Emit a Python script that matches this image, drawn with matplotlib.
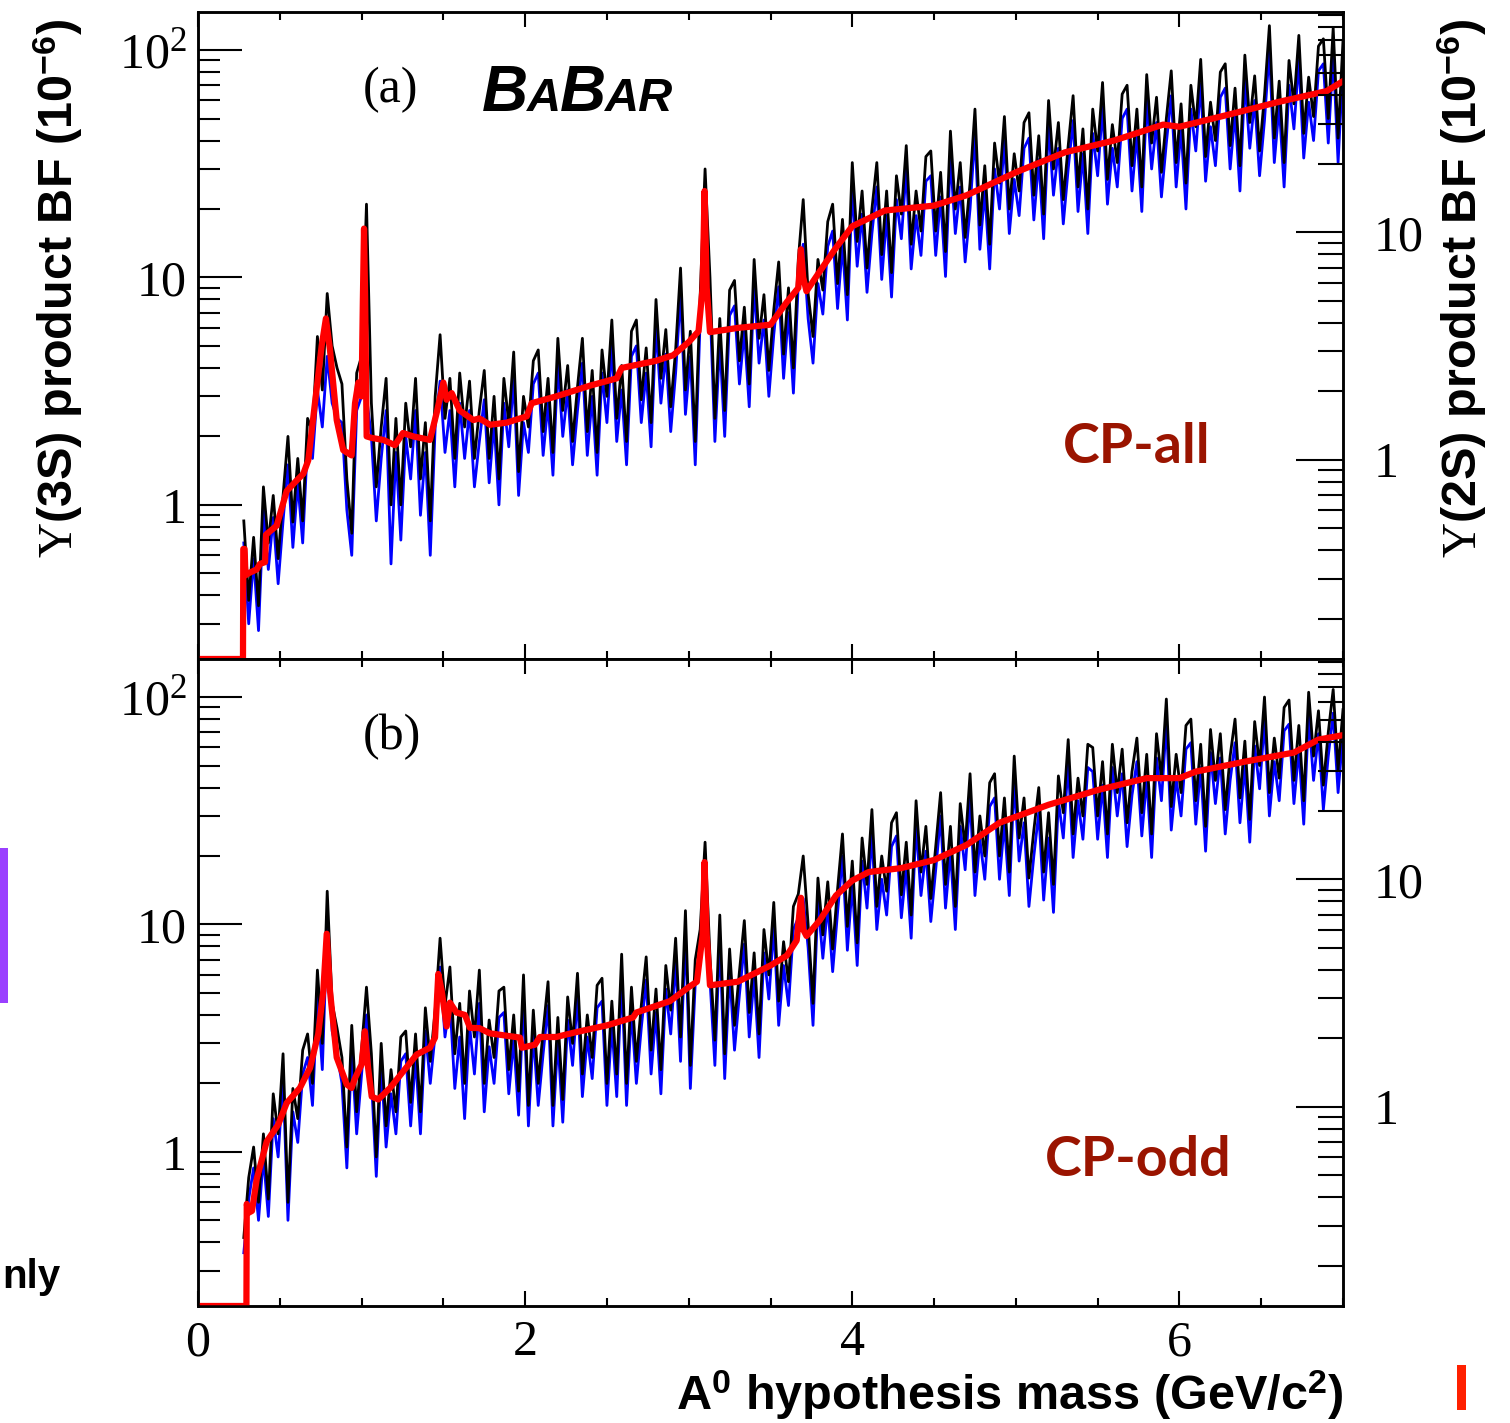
import numpy as np
import matplotlib
matplotlib.use("Agg")
import matplotlib.pyplot as plt
from matplotlib.ticker import FixedLocator, MultipleLocator, NullFormatter, LogLocator, FixedFormatter
from matplotlib.patches import Rectangle

plt.rcParams['mathtext.fontset'] = 'custom'
plt.rcParams['mathtext.rm'] = 'Liberation Serif'
plt.rcParams['mathtext.it'] = 'Liberation Serif:italic'
plt.rcParams['mathtext.bf'] = 'Liberation Sans:bold'
plt.rcParams['mathtext.sf'] = 'Liberation Sans'

# ---------------- data ----------------
# mass-hypothesis scan grid (GeV/c^2)
MASS_START = 0.28
MASS_STEP = 0.03

# panel (a) CP-all : upper limits (black) and Y(2S)-scaled limits (blue)
black_a = [
    0.85, 0.38, 0.72, 0.36, 1.2, 0.68, 1.1, 0.58, 1.1, 2.0,
    0.84, 1.6, 0.85, 2.4, 2.1, 5.5, 3.2, 8.5, 5.0, 4.0,
    3.4, 1.3, 0.75, 3.8, 4.5, 21, 2.8, 1.2, 2.2, 3.6,
    1.0, 2.4, 1.0, 2.8, 1.8, 3.6, 1.3, 2.3, 0.85, 3.0,
    5.6, 2.4, 3.6, 1.6, 3.8, 2.2, 3.5, 1.6, 2.6, 3.9,
    1.6, 3.0, 1.3, 3.6, 2.3, 4.7, 1.4, 3.0, 2.2, 4.3,
    4.8, 2.1, 3.6, 1.7, 5.4, 2.6, 4.1, 1.9, 3.3, 5.4,
    2.1, 3.9, 1.7, 4.8, 3.0, 6.5, 2.4, 4.1, 1.9, 5.8,
    6.5, 2.9, 4.9, 2.3, 8.0, 3.6, 5.9, 2.7, 4.8, 11,
    3.2, 5.8, 1.9, 8.3, 30, 10, 2.4, 6.6, 2.6, 8.8,
    9.7, 4.3, 7.4, 3.4, 12, 5.4, 8.4, 3.9, 7.2, 11.7,
    4.6, 9.0, 4.0, 12, 22, 8.5, 5.5, 12, 8.8, 17.6,
    21, 9.4, 18, 8.4, 32, 14.4, 24, 11, 20, 32,
    12.6, 24, 10.5, 28, 19, 38, 14, 24, 16, 34,
    36, 16, 29, 13, 44, 20, 32, 15, 26, 55,
    17, 31, 14, 39, 26, 51, 20, 35, 24, 48,
    53, 23, 42, 19, 60, 30, 48, 22, 38, 63,
    25, 45, 20, 55, 36, 72, 27, 47, 32, 64,
    70, 31, 55, 25, 78, 39, 62, 29, 50, 81,
    32, 58, 26, 70, 46, 91, 34, 59, 40, 80,
    87, 38, 68, 31, 95, 48, 77, 36, 63, 128,
    41, 73, 32, 90, 58, 116, 43, 76, 51, 104,
    112, 50, 125, 41, 110]

blue_a = [
    0.68, 0.3, 0.58, 0.28, 0.95, 0.52, 0.88, 0.45, 0.85, 1.5,
    0.65, 1.25, 0.68, 1.9, 1.6, 3.2, 2.2, 4.5, 2.8, 2.4,
    2.3, 0.95, 0.6, 2.6, 3.0, 3.0, 2.0, 0.85, 1.6, 2.6,
    0.55, 1.7, 0.7, 2.0, 1.3, 2.6, 0.9, 1.7, 0.6, 2.2,
    3.5, 1.7, 2.6, 1.2, 2.8, 1.6, 2.6, 1.2, 1.9, 2.9,
    1.25, 2.3, 1.0, 2.8, 1.8, 3.6, 1.1, 2.3, 1.7, 3.4,
    3.8, 1.65, 2.8, 1.35, 4.2, 2.0, 3.2, 1.5, 2.6, 4.2,
    1.65, 3.0, 1.35, 3.8, 2.3, 5.0, 1.9, 3.2, 1.5, 4.5,
    5.0, 2.3, 3.8, 1.8, 6.2, 2.8, 4.6, 2.1, 3.8, 8.5,
    2.5, 4.5, 1.5, 6.5, 12, 7.8, 1.9, 5.2, 2.0, 6.8,
    7.5, 3.4, 5.8, 2.7, 9.4, 4.2, 6.5, 3.0, 5.6, 9.1,
    3.6, 7.0, 3.1, 9.4, 14, 6.6, 4.2, 9.4, 6.9, 13.7,
    16, 7.3, 14, 6.5, 25, 11.2, 19, 8.6, 15.6, 25,
    9.8, 18.7, 8.2, 22, 14.8, 30, 10.9, 18.7, 12.5, 26.5,
    28, 12.5, 22.6, 10.1, 34, 15.6, 25, 11.7, 20, 43,
    13.3, 24, 10.9, 30, 20, 40, 15.6, 27, 18.7, 37,
    41, 17.9, 33, 14.8, 47, 23, 37, 17.2, 30, 49,
    19.5, 35, 15.6, 43, 28, 56, 21, 37, 25, 50,
    55, 24, 43, 19.5, 61, 30, 48, 22.6, 39, 63,
    25, 45, 20, 55, 36, 71, 26.5, 46, 31, 62,
    68, 30, 53, 24, 74, 37, 60, 28, 49, 100,
    32, 57, 25, 70, 45, 90, 33.5, 59, 40, 81,
    87, 39, 97, 32, 86]

red_a_x = [0.0, 0.275, 0.277, 0.285, 0.29, 0.308, 0.359, 0.379, 0.41, 0.416,
           0.481, 0.542, 0.603, 0.644, 0.674, 0.715, 0.756, 0.782, 0.807, 0.848,
           0.888, 0.939, 0.96, 0.98, 1.0, 1.008, 1.015, 1.022, 1.031, 1.062,
           1.133, 1.204, 1.253, 1.316, 1.418, 1.459, 1.5, 1.52, 1.551, 1.60,
           1.683, 1.72, 1.785, 1.887, 2.01, 2.04, 2.19, 2.40, 2.56, 2.59,
           2.80, 2.905, 3.0, 3.06, 3.085, 3.097, 3.11, 3.13, 3.3, 3.5,
           3.6, 3.67, 3.686, 3.70, 3.72, 3.8, 3.9, 4.0, 4.2, 4.5,
           4.7, 5.0, 5.3, 5.6, 5.9, 6.0, 6.3, 6.6, 6.9, 7.0]
red_a_y = [0.21, 0.21, 0.64, 0.64, 0.49, 0.50, 0.52, 0.55, 0.56, 0.74,
           0.81, 1.15, 1.28, 1.37, 1.57, 2.8, 5.0, 6.6, 4.8, 2.36,
           1.74, 1.65, 2.8, 3.45, 3.0, 8.0, 16.4, 8.0, 2.0, 1.97,
           1.93, 1.83, 2.07, 2.0, 1.93, 2.54, 3.45, 2.9, 3.1, 2.6,
           2.36, 2.4, 2.25, 2.3, 2.45, 2.8, 3.0, 3.35, 3.6, 4.0,
           4.3, 4.55, 5.2, 5.8, 9.0, 24, 9.0, 5.75, 6.0, 6.2,
           7.8, 9.0, 13.3, 10, 8.7, 10.6, 13.5, 16.8, 19.7, 20.7,
           23, 29, 35.5, 40, 47, 46, 52, 59, 66, 73]

# panel (b) CP-odd
black_b = [
    0.42, 0.77, 1.05, 0.6, 1.2, 0.62, 1.8, 1.2, 2.7, 0.6,
    1.9, 1.4, 2.8, 3.3, 2.0, 6.3, 3.0, 14, 4.5, 3.5,
    2.6, 1.05, 3.6, 1.5, 2.8, 5.3, 2.7, 0.95, 3.0, 1.3,
    2.3, 1.5, 3.2, 3.4, 1.65, 3.3, 1.5, 4.3, 2.5, 4.2,
    8.7, 4.4, 6.5, 2.7, 4.5, 2.0, 5.1, 3.2, 6.3, 2.0,
    3.8, 2.6, 5.1, 5.3, 2.3, 4.0, 1.85, 6.0, 1.6, 4.2,
    2.0, 3.4, 5.6, 1.6, 3.9, 1.7, 4.8, 3.0, 6.1, 2.2,
    4.0, 2.6, 5.4, 5.8, 2.0, 4.6, 2.2, 7.4, 2.0, 5.3,
    2.5, 4.4, 7.2, 2.8, 5.2, 2.3, 6.6, 4.2, 8.7, 3.2,
    11.5, 2.4, 7.0, 9.5, 23, 7.2, 3.1, 11, 2.7, 7.8,
    3.6, 6.2, 10.4, 4.1, 7.5, 3.3, 9.5, 6.0, 12.5, 4.6,
    8.4, 5.6, 12, 13.6, 20, 10, 4.5, 16, 9.0, 15.4,
    7.8, 14.3, 25, 9.8, 19, 8.3, 24, 15, 32, 12,
    20, 14, 28, 31, 13.5, 23, 11, 35, 17, 27,
    13, 22, 38, 15, 27, 12, 34, 22, 46, 17,
    30, 20, 42, 46, 20, 36, 17, 55, 24, 36,
    16, 26, 40, 17, 31, 15, 45, 31, 65, 25,
    44, 30, 62, 60, 30, 52, 25, 62, 38, 59,
    28, 47, 66, 31, 56, 25, 69, 44, 98, 33,
    56, 38, 75, 80, 35, 62, 27, 72, 43, 69,
    32, 55, 80, 36, 64, 29, 78, 50, 100, 38,
    66, 44, 90, 97, 43, 75, 35, 105, 55, 87,
    41, 70, 108, 48, 88]

blue_b = [
    0.36, 0.62, 0.85, 0.5, 0.95, 0.52, 1.4, 0.95, 2.1, 0.5,
    1.5, 1.1, 2.2, 2.6, 1.6, 4.8, 2.3, 10, 3.4, 2.7,
    2.0, 0.85, 2.8, 1.2, 2.2, 4.0, 2.1, 0.78, 2.4, 1.05,
    1.8, 1.2, 2.5, 2.7, 1.3, 2.6, 1.2, 3.4, 2.0, 3.3,
    6.5, 3.2, 4.6, 1.9, 3.2, 1.4, 3.6, 2.2, 4.5, 1.5,
    2.9, 2.0, 3.9, 4.1, 1.8, 3.1, 1.45, 4.7, 1.3, 3.3,
    1.6, 2.7, 4.4, 1.3, 3.1, 1.35, 3.8, 2.4, 4.8, 1.75,
    3.2, 2.1, 4.3, 4.6, 1.6, 3.6, 1.75, 5.8, 1.6, 4.2,
    2.0, 3.5, 5.7, 2.2, 4.1, 1.8, 5.2, 3.3, 6.9, 2.5,
    9.0, 1.9, 5.5, 7.5, 12, 5.7, 2.4, 8.7, 2.1, 6.2,
    2.8, 4.9, 8.2, 3.2, 5.9, 2.6, 7.5, 4.7, 9.9, 3.6,
    6.6, 4.4, 9.5, 10.7, 13, 7.9, 3.6, 12.6, 7.1, 12.2,
    6.2, 11.3, 20, 7.7, 15, 6.6, 19, 11.8, 25, 9.5,
    15.8, 11, 22, 24.5, 10.7, 18, 8.7, 27.6, 13.4, 21,
    10.3, 17.4, 30, 11.8, 21, 9.5, 27, 17.4, 36, 13.4,
    23.7, 15.8, 33, 36, 15.8, 28, 13.4, 43, 19, 28,
    12, 20, 31, 12.8, 24, 11.3, 35, 24, 51, 19.7,
    35, 23.7, 49, 47, 23.7, 41, 19.7, 49, 30, 46,
    22, 37, 52, 24.5, 44, 19.7, 54, 35, 77, 26,
    44, 30, 59, 63, 27.6, 49, 21, 57, 34, 54,
    25, 43, 63, 28, 50, 23, 61, 39.5, 79, 30,
    52, 35, 71, 76, 34, 59, 27.6, 83, 43, 69,
    32, 55, 85, 38, 69]

red_b_x = [0.0, 0.296, 0.298, 0.31, 0.33, 0.359, 0.42, 0.491, 0.542, 0.623,
           0.685, 0.735, 0.766, 0.787, 0.807, 0.848, 0.909, 0.939, 0.96, 1.0,
           1.02, 1.04, 1.062, 1.102, 1.174, 1.255, 1.337, 1.418, 1.449, 1.469,
           1.49, 1.52, 1.54, 1.58, 1.632, 1.663, 1.72, 1.785, 1.968, 1.98,
           2.06, 2.09, 2.19, 2.31, 2.50, 2.66, 2.68, 2.885, 3.0, 3.05,
           3.085, 3.097, 3.11, 3.13, 3.3, 3.5, 3.6, 3.66, 3.686, 3.70,
           3.72, 3.8, 3.9, 4.0, 4.1, 4.3, 4.5, 4.7, 4.9, 5.2,
           5.5, 5.8, 6.0, 6.1, 6.4, 6.7, 6.85, 7.0]
red_b_y = [0.21, 0.21, 0.59, 0.54, 0.55, 0.76, 1.11, 1.32, 1.64, 1.91,
           2.34, 3.3, 5.1, 9.1, 5.1, 2.6, 1.98, 1.91, 2.11, 2.42,
           3.39, 2.34, 1.75, 1.70, 1.91, 2.26, 2.68, 2.87, 3.18, 6.06,
           5.1, 3.56, 4.53, 4.1, 4.0, 3.51, 3.5, 3.32, 3.18, 2.87,
           2.96, 3.2, 3.2, 3.36, 3.6, 3.9, 4.1, 4.6, 5.3, 5.6,
           9.0, 18.8, 9.0, 5.4, 5.6, 6.6, 7.3, 8.5, 13.1, 9.5,
           8.9, 10.4, 13.4, 15.6, 17, 17.7, 19.2, 22.4, 28, 33.6,
           39, 44, 44, 47, 52, 57, 65, 68]

x_ticks = [0, 2, 4, 6]
x_ticklabels = ['0', '2', '4', '6']
y_ticks = [1, 10, 100]
y_ticklabels = ['1', '10', r'$10^{2}$']
y2_ticks = [1, 10]
y2_ticklabels = ['1', '10']
Y_LIM = (0.21, 147)
Y2_RATIO = 1.58   # Y(3S)/Y(2S) scale between the two axes

# ---------------- figure ----------------
W, H = 1510, 1423
fig = plt.figure(figsize=(W / 100, H / 100), dpi=100)
fig.patch.set_facecolor('white')

SERIF = 'Liberation Serif'
SANS = 'Liberation Sans'


def make_panel(ybot_px, black, blue, rx, ry, show_xlabels):
    ax = fig.add_axes([198 / W, 1 - ybot_px / H, 1145 / W, 647 / H])
    mass = MASS_START + MASS_STEP * np.arange(len(black))
    ax.plot(mass, blue, color='#0000ff', lw=2.0, zorder=2)
    ax.plot(mass, black, color='black', lw=2.0, zorder=3)
    ax.plot(rx, ry, color='#ff0000', lw=4.5, zorder=4, solid_joinstyle='round')
    ax.set_yscale('log')
    ax.set_xlim(0, 7)
    ax.set_ylim(*Y_LIM)
    for s in ax.spines.values():
        s.set_linewidth(1.8)
    ax.xaxis.set_major_locator(FixedLocator(x_ticks))
    ax.xaxis.set_minor_locator(MultipleLocator(0.5))
    if show_xlabels:
        ax.set_xticklabels(x_ticklabels, fontsize=36, family=SERIF)
    else:
        ax.set_xticklabels([])
    ax.yaxis.set_major_locator(FixedLocator(y_ticks))
    ax.yaxis.set_major_formatter(FixedFormatter(y_ticklabels))
    ax.yaxis.set_minor_locator(LogLocator(base=10, subs=np.arange(2, 10)))
    ax.yaxis.set_minor_formatter(NullFormatter())
    for lab in ax.get_yticklabels():
        lab.set_fontsize(36)
        lab.set_family(SERIF)
    ax.tick_params(axis='x', which='major', direction='in', length=11, width=1.5,
                   top=True, bottom=True, pad=10)
    ax.tick_params(axis='x', which='minor', direction='in', length=5.5, width=1.5,
                   top=True, bottom=True)
    ax.tick_params(axis='y', which='major', direction='in', length=32, width=1.5,
                   left=True, right=False, pad=8)
    ax.tick_params(axis='y', which='minor', direction='in', length=16, width=1.5,
                   left=True, right=False)

    ax2 = ax.twinx()
    ax2.set_yscale('log')
    ax2.set_ylim(Y_LIM[0] / Y2_RATIO, Y_LIM[1] / Y2_RATIO)
    ax2.yaxis.set_major_locator(FixedLocator(y2_ticks))
    ax2.yaxis.set_major_formatter(FixedFormatter(y2_ticklabels))
    ax2.yaxis.set_minor_locator(LogLocator(base=10, subs=np.arange(2, 10)))
    ax2.yaxis.set_minor_formatter(NullFormatter())
    for lab in ax2.get_yticklabels():
        lab.set_fontsize(36)
        lab.set_family(SERIF)
    ax2.tick_params(axis='y', which='major', direction='in', length=34, width=1.5, pad=22)
    ax2.tick_params(axis='y', which='minor', direction='in', length=18, width=1.5)
    for s in ax2.spines.values():
        s.set_linewidth(1.8)
    return ax


axA = make_panel(659, black_a, blue_a, red_a_x, red_a_y, False)
axB = make_panel(1306, black_b, blue_b, red_b_x, red_b_y, True)


def ftext(xp, yp, s, **kw):
    return fig.text(xp / W, 1 - yp / H, s, **kw)


# axis titles
ftext(58, 18, r'$\Upsilon$(3S) product BF (10$^{\mathbf{-6}}$)', rotation=90,
      ha='center', va='top', fontsize=35, fontweight='bold', family=SANS)
ftext(1462, 18, r'$\Upsilon$(2S) product BF (10$^{\mathbf{-6}}$)', rotation=90,
      ha='center', va='top', fontsize=35, fontweight='bold', family=SANS)
ftext(1343, 1395, r'A$^{\mathbf{0}}$ hypothesis mass (GeV/c$^{\mathbf{2}}$)',
      ha='right', va='center', fontsize=35, fontweight='bold', family=SANS)

# panel labels
ftext(363, 90, '(a)', ha='left', va='center', fontsize=36, family=SERIF)
ftext(363, 737, '(b)', ha='left', va='center', fontsize=36, family=SERIF)
ftext(1063, 447, 'CP-all', ha='left', va='center', fontsize=40, fontweight='bold',
      family=['Lato', 'Open Sans'], color='#9a1400')
ftext(1045, 1160, 'CP-odd', ha='left', va='center', fontsize=40, fontweight='bold',
      family=['Lato', 'Open Sans'], color='#9a1400')

# BaBar logo
renderer = fig.canvas.get_renderer()
xcur = 482
for piece, fs in [('B', 46), ('A', 34), ('B', 46), ('AR', 34)]:
    t = ftext(xcur, 111, piece, ha='left', va='baseline', fontsize=fs,
              fontweight='bold', fontstyle='italic', family=SANS)
    bb = t.get_window_extent(renderer)
    xcur = bb.x1 - 1

# cropped slide fragments at the edges
fig.patches.append(Rectangle((0, 1 - 1003 / H), 8 / W, 155 / H, transform=fig.transFigure,
                             facecolor='#9a40ff', edgecolor='none'))
ftext(2, 1288, 'nly', ha='left', va='baseline', fontsize=29, fontweight='bold', family=SANS)
fig.patches.append(Rectangle((1457 / W, 1 - 1410 / H), 9 / W, 45 / H, transform=fig.transFigure,
                             facecolor='#ff2000', edgecolor='none'))

fig.savefig('out.png', dpi=100, facecolor='white')
